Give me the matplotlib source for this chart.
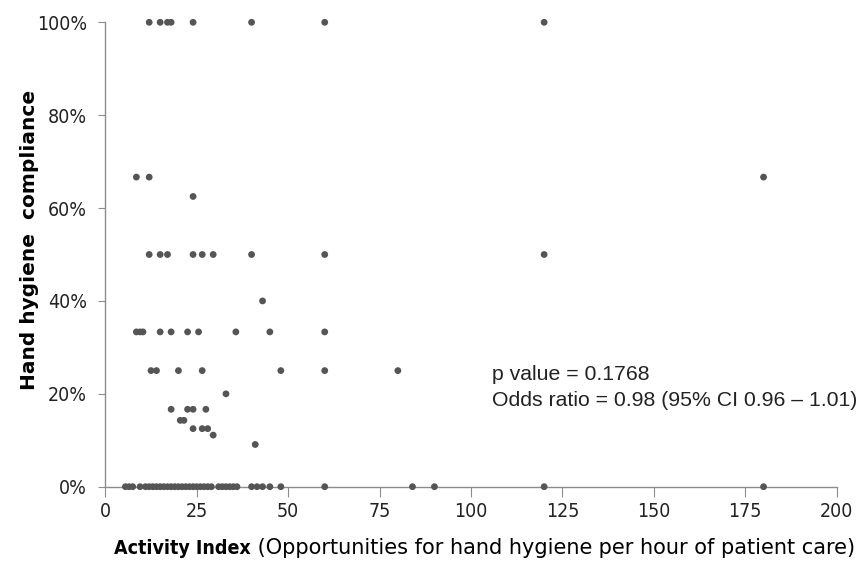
import matplotlib
matplotlib.use("Agg")
import matplotlib.pyplot as plt
from matplotlib.offsetbox import TextArea, HPacker, AnchoredOffsetbox

# activity index values, grouped by compliance level
x_100 = [12, 15, 17, 18, 24, 40, 60, 120]
x_667 = [8.5, 12, 180]
x_625 = [24]
x_50 = [12, 15, 17, 24, 26.5, 29.5, 40, 60, 120]
x_40 = [43]
x_333 = [8.5, 9.5, 10.3, 15, 18, 22.5, 25.5, 35.7, 45, 60]
x_25 = [12.5, 14, 20, 26.5, 48, 60, 80]
x_20 = [33]
x_167 = [18, 22.5, 24, 27.5]
x_143 = [20.5, 21.5]
x_125 = [24, 26.5, 28]
x_111 = [29.5]
x_91 = [41]
x_0 = [5.5, 6.5, 7.5, 9.5, 11, 12, 13, 14, 15, 16, 17, 18, 19, 20, 21, 22,
       23, 24, 25, 26, 27, 28, 29, 31, 32, 33, 34, 35, 36, 40, 41.5, 43, 45,
       48, 60, 84, 90, 120, 180]

levels = [(x_100, 1.0), (x_667, 2 / 3), (x_625, 0.625), (x_50, 0.5), (x_40, 0.4),
          (x_333, 1 / 3), (x_25, 0.25), (x_20, 0.2), (x_167, 1 / 6), (x_143, 1 / 7),
          (x_125, 0.125), (x_111, 1 / 9), (x_91, 1 / 11), (x_0, 0.0)]

xs = []
ys = []
for xv, yv in levels:
    xs += xv
    ys += [yv] * len(xv)

x_ticks = [0, 25, 50, 75, 100, 125, 150, 175, 200]
y_ticks = [0, 0.2, 0.4, 0.6, 0.8, 1.0]
y_ticklabels = ["0%", "20%", "40%", "60%", "80%", "100%"]

W, H = 860, 561
fig = plt.figure(figsize=(W / 100, H / 100), dpi=100)
ax = fig.add_axes([105.3 / W, 1 - 486.7 / H, (836.7 - 105.3) / W, (486.7 - 22.3) / H])

ax.scatter(xs, ys, s=24, color="#555555", edgecolors="none", zorder=3, clip_on=False)

ax.set_xlim(0, 200)
ax.set_ylim(0, 1)
ax.set_xticks(x_ticks)
ax.set_yticks(y_ticks)
ax.set_yticklabels(y_ticklabels)

for lab in ax.get_xticklabels() + ax.get_yticklabels():
    lab.set_family("DejaVu Sans")
    lab.set_fontstretch("condensed")
    lab.set_fontsize(14)
    lab.set_color("#222222")

for side in ["top", "right"]:
    ax.spines[side].set_visible(False)
for side in ["left", "bottom"]:
    ax.spines[side].set_color("#8c8c8c")
    ax.spines[side].set_linewidth(1.0)
ax.tick_params(axis="x", direction="out", length=7, color="#8c8c8c", pad=4)
ax.tick_params(axis="y", direction="out", length=5, color="#8c8c8c", pad=8)

# y label
fig.text(30 / W, 1 - 240 / H, "Hand hygiene  compliance", rotation=90,
         ha="center", va="center", fontsize=14.5, fontweight="bold",
         family="DejaVu Sans")

# x label in mixed weights
t1 = TextArea("Activity Index", textprops=dict(fontsize=14, fontweight="bold",
                                               fontstretch="condensed", family="DejaVu Sans"))
t2 = TextArea(" (Opportunities for hand hygiene", textprops=dict(fontsize=15, family="DejaVu Sans"))
t3 = TextArea(" per hour of patient care)", textprops=dict(fontsize=15, family="DejaVu Sans"))
box = HPacker(children=[t1, t2, t3], align="baseline", pad=0, sep=0)
anch = AnchoredOffsetbox(loc="center", child=box, pad=0, frameon=False,
                         bbox_to_anchor=((113 + 857) / 2 / W, 1 - 548 / H),
                         bbox_transform=fig.transFigure, borderpad=0)
fig.add_artist(anch)

ann_font = ["Liberation Sans", "DejaVu Sans"]
fig.text(492 / W, 1 - 375 / H, "p value = 0.1768", ha="left", va="center",
         fontsize=15.3, family=ann_font, color="#222222")
fig.text(492 / W, 1 - 401 / H, "Odds ratio = 0.98 (95% CI 0.96 \u2013 1.01)", ha="left",
         va="center", fontsize=15.3, family=ann_font, color="#222222")

fig.savefig("out.png", dpi=100)
